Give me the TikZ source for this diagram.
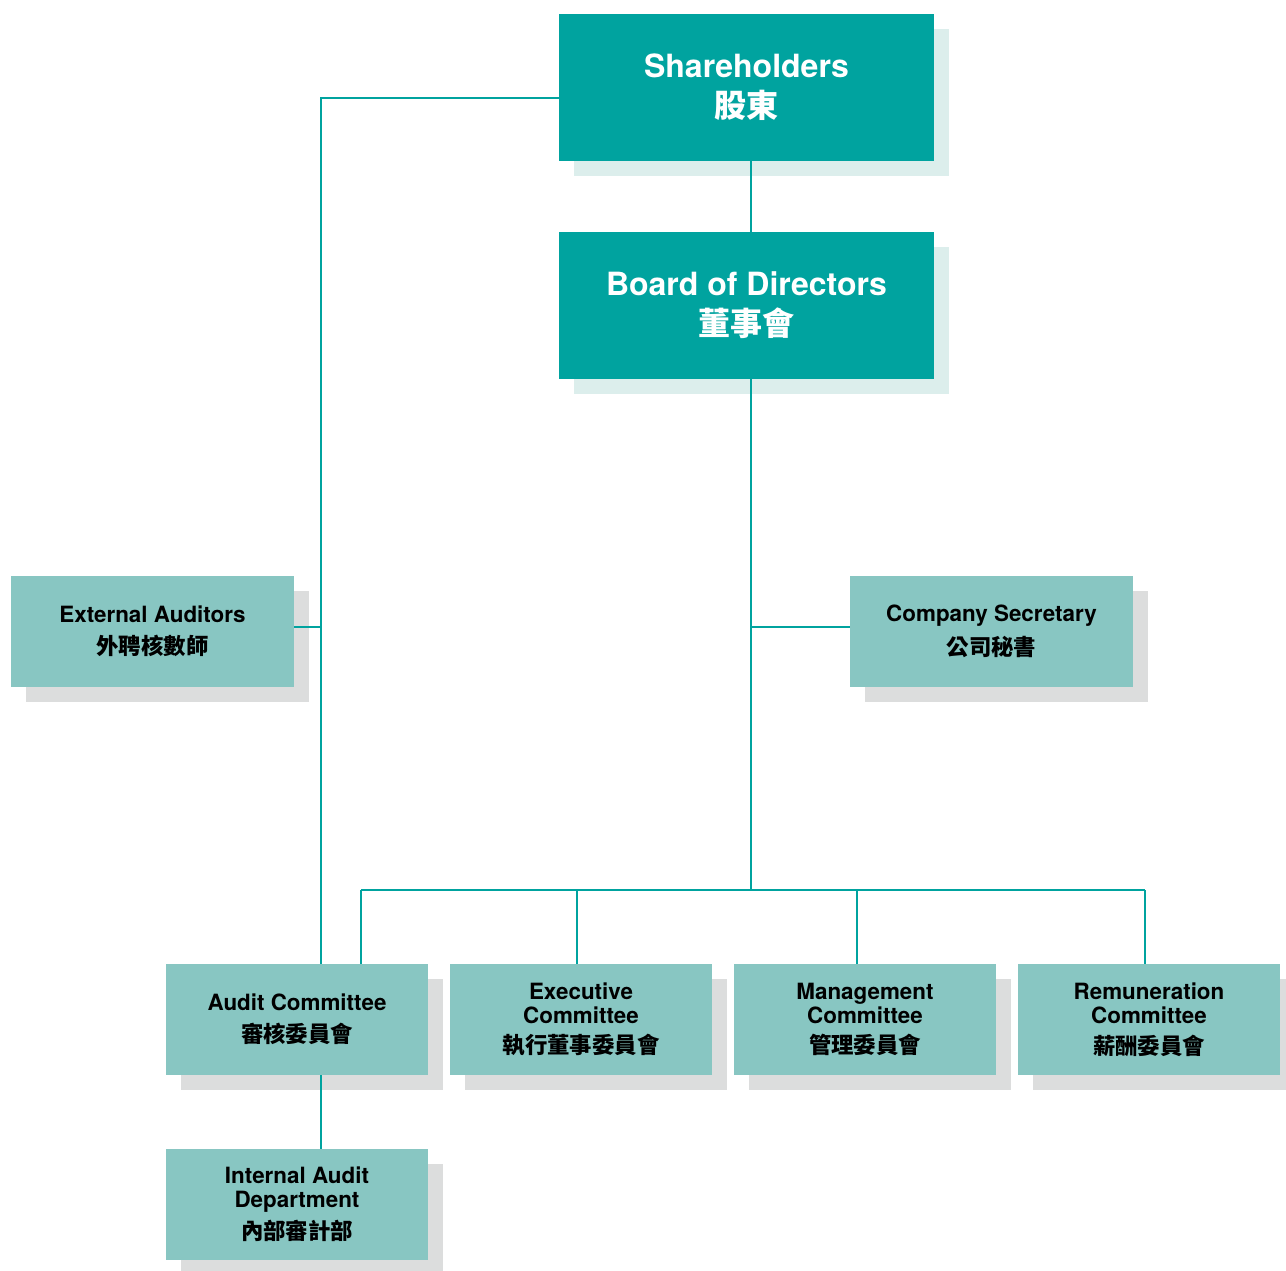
\documentclass[tikz,border=0pt]{standalone}
\usepackage{fontspec}
\setmainfont{TeX Gyre Heros}
\newfontfamily\cjk{Noto Sans CJK TC}
\usepackage{tikz}
\usetikzlibrary{positioning, shadows}
\usepackage{xcolor}
\definecolor{deepteal}{HTML}{00A39F}
\definecolor{softteal}{HTML}{88C6C2}
\definecolor{paleteal}{HTML}{DCEEEC}
\definecolor{shadegrey}{HTML}{DCDDDD}
\newcommand{\zh}[1]{{\cjk #1}}

\begin{document}
\begin{tikzpicture}[
    x=0.75pt,y=-0.75pt,
    topbox/.style={rectangle,fill=deepteal,text=white,inner sep=0pt,
      minimum width=281.25pt,minimum height=110.25pt,align=center,
      font=\bfseries\fontsize{24}{30}\selectfont,
      drop shadow={fill=paleteal,opacity=1,shadow xshift=11.25pt,shadow yshift=-11.25pt}},
    unitbox/.style={rectangle,fill=softteal,text=black,inner sep=0pt,
      minimum height=83.25pt,align=center,
      font=\bfseries\fontsize{16.8}{18}\selectfont,
      drop shadow={fill=shadegrey,opacity=1,shadow xshift=11.25pt,shadow yshift=-11.25pt}},
    wide/.style={minimum width=212.25pt},
    narrow/.style={minimum width=196.5pt},
    link/.style={draw=deepteal,line width=1.5pt}
    ]
    \useasboundingbox (0,0) rectangle (1286,1271);
    \node [topbox] (share) at (746.5,87.5) {Shareholders\\\zh{股東}};
    \node [topbox] (board) at (746.5,305.5) {Board of Directors\\\zh{董事會}};
    \node [unitbox,wide] (extaud) at (152.5,631.5) {External Auditors\\[6pt]\zh{外聘核數師}};
    \node [unitbox,wide] (cosec) at (991.5,631.5) {Company Secretary\\[6pt]\zh{公司秘書}};
    \node [unitbox,narrow] (auditc) at (297,1019.5) {Audit Committee\\[6pt]\zh{審核委員會}};
    \node [unitbox,narrow] (execc) at (581,1019.5) {Executive\\Committee\\[5pt]\zh{執行董事委員會}};
    \node [unitbox,narrow] (mgmtc) at (865,1019.5) {Management\\Committee\\[5pt]\zh{管理委員會}};
    \node [unitbox,narrow] (remc) at (1149,1019.5) {Remuneration\\Committee\\[5pt]\zh{薪酬委員會}};
    \node [unitbox,narrow] (intaud) at (297,1204.5) {Internal Audit\\Department\\[5pt]\zh{內部審計部}};
    % trunk lines
    \coordinate (trunk) at (321,98);
    \coordinate (spine) at (751,890);
    \draw [link] (share.west |- trunk) -- (trunk) -- (trunk |- auditc.north);
    \draw [link] ([yshift=3.75pt]extaud.east) -- ([yshift=3.75pt]extaud.east -| trunk);
    \draw [link] (share.south -| spine) -- (board.north -| spine);
    \draw [link] (board.south -| spine) -- (spine);
    \draw [link] ([yshift=3.75pt]cosec.west) -- ([yshift=3.75pt]cosec.west -| spine);
    \draw [link] ([xshift=48pt]auditc.north |- spine) -- ([xshift=-3pt]remc.north |- spine);
    \foreach \n/\dx in {auditc/48pt, execc/-3pt, mgmtc/-6pt, remc/-3pt}
      \draw [link] ([xshift=\dx]\n.north) -- ([xshift=\dx]\n.north |- spine);
    \draw [link] (trunk |- auditc.south) -- (trunk |- intaud.north);
\end{tikzpicture}
\end{document}
